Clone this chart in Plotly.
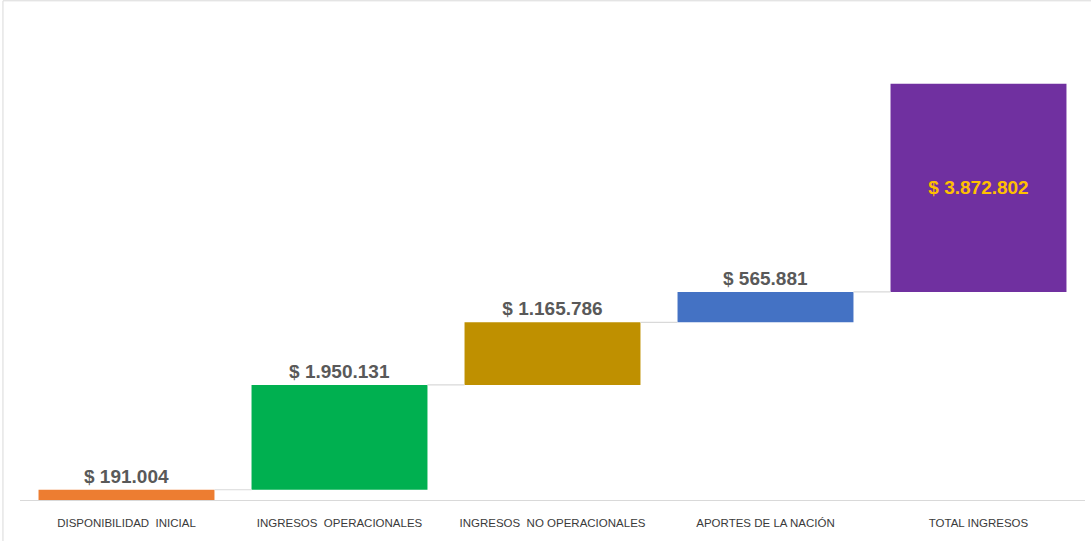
import plotly.graph_objects as go

categories = ["DISPONIBILIDAD  INICIAL", "INGRESOS  OPERACIONALES", "INGRESOS  NO OPERACIONALES",
              "APORTES DE LA NACIÓN", "TOTAL INGRESOS"]
values = [191004, 1950131, 1165786, 565881, 3872802]
colors = ["#ED7D31", "#00B050", "#BF9000", "#4472C4", "#7030A0"]

bases = []
acc = 0
for v in values:
    bases.append(acc)
    acc += v

def fmt(v):
    return "$ " + f"{v:,}".replace(",", ".")

labels = ["<b>" + fmt(v) + "</b>" for v in values]
xs = list(range(len(categories)))
bar_width = 0.826

fig = go.Figure()
fig.add_trace(go.Bar(
    x=xs, y=values, base=bases, width=bar_width,
    marker=dict(color=colors, line=dict(width=0)),
    text=labels,
    textposition=["outside"] * 4 + ["inside"],
    insidetextanchor="middle",
    textangle=0,
    cliponaxis=False,
    textfont=dict(family="Liberation Sans, Arial", size=19,
                  color=["#595959"] * 4 + ["#FFC000"]),
    hoverinfo="skip",
))

shapes = []
for i in range(len(values) - 1):
    level = bases[i] + values[i]
    shapes.append(dict(type="line", xref="x", yref="y",
                       x0=i + bar_width / 2, x1=i + 1 - bar_width / 2,
                       y0=level, y1=level,
                       line=dict(color="#D9D9D9", width=1.2)))
# chart frame
shapes.append(dict(type="line", xref="paper", yref="paper", x0=-0.016, x1=1.2, y0=1.04, y1=1.04,
                   line=dict(color="#D9D9D9", width=1)))
shapes.append(dict(type="line", xref="paper", yref="paper", x0=-0.016, x1=-0.016, y0=-0.2, y1=1.04,
                   line=dict(color="#D9D9D9", width=1)))

fig.update_layout(
    width=1091, height=541,
    margin=dict(l=20, r=6, t=20, b=41),
    paper_bgcolor="white", plot_bgcolor="white",
    showlegend=False,
    shapes=shapes,
    uniformtext=dict(mode=False),
    xaxis=dict(tickmode="array", tickvals=xs, ticktext=categories,
               range=[-0.5, len(categories) - 0.5],
               showline=True, linecolor="#D9D9D9", linewidth=1.2,
               showgrid=False, zeroline=False, ticks="",
               ticklabelstandoff=12,
               tickfont=dict(family="Liberation Sans Narrow, Arial Narrow, Liberation Sans", size=11.5,
                             color="#3A3A3A")),
    yaxis=dict(range=[0, 480 * 18610], visible=False, showgrid=False, zeroline=False),
    font=dict(family="Liberation Sans, Arial"),
)
fig.write_html("out.html", config={"displayModeBar": False},
               post_script="document.body.style.margin='0';document.body.style.overflow='hidden';")
